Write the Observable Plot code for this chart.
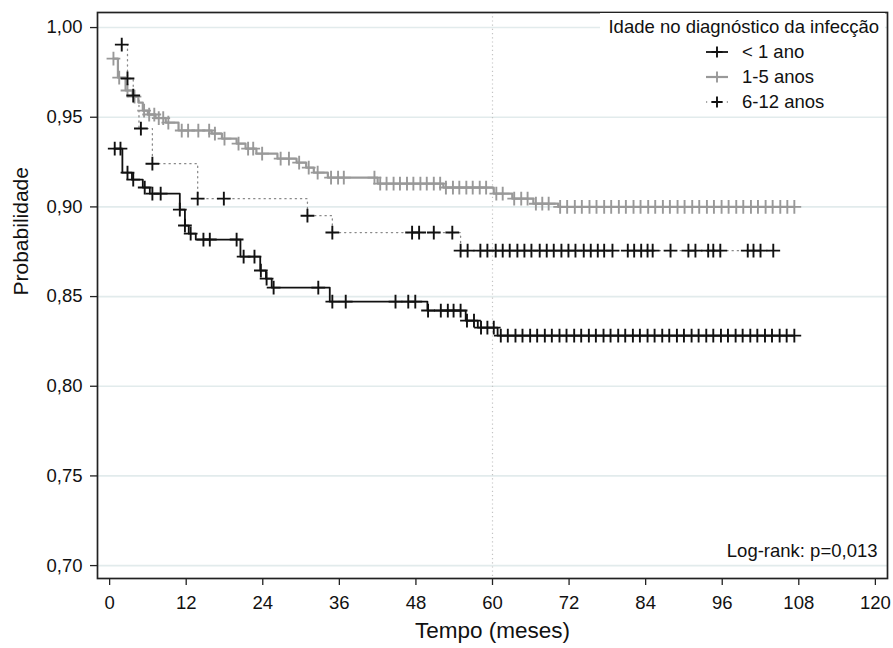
<!DOCTYPE html>
<html>
<head>
<meta charset="utf-8">
<script src="https://cdn.jsdelivr.net/npm/d3@7"></script>
<script src="https://cdn.jsdelivr.net/npm/@observablehq/plot@0.6"></script>
<style>
  body { margin: 0; background: #fff; }
  #wrap { position: relative; width: 893px; height: 648px; font-family: "Liberation Sans", Arial, sans-serif; }
  #legend { position: absolute; left: 600px; top: 13px; width: 285px; height: 100px; background: #fff; color: #111; }
  #legend .title { position: absolute; right: 6px; top: 3px; font-size: 18.5px; white-space: nowrap; }
  #legend .item { position: absolute; left: 104px; font-size: 18.5px; white-space: nowrap; height: 22px; }
  #legend .item svg { position: absolute; left: 0; top: 0; }
  #legend .item span { position: absolute; left: 38px; top: 0px; }
</style>
</head>
<body>
<div id="wrap"></div>
<script>
// ---- data ----
const groups = ["< 1 ano", "1-5 anos", "6-12 anos"];
const xTicks = [0, 12, 24, 36, 48, 60, 72, 84, 96, 108, 120];
const yTicks = [0.70, 0.75, 0.80, 0.85, 0.90, 0.95, 1.00];

// step curve (time in months, survival probability)
const lt1StepT = [0.8, 2.0, 3.5, 5.2, 6.3, 11.0, 11.8, 12.4, 13.5, 20.5, 23.6, 24.5, 25.4, 34.5, 49.8, 55.8, 57.7, 60.8, 107.3];
const lt1StepS = [0.9325, 0.9191, 0.9152, 0.9108, 0.9074, 0.8985, 0.8896, 0.8851, 0.8818, 0.8723, 0.8645, 0.8600, 0.8550, 0.8472, 0.8422, 0.8366, 0.8327, 0.8282, 0.8282];
const lt1Cens = [0.8, 1.7, 2.8, 3.7, 5.5, 6.7, 8.0, 11.0, 11.8, 12.7, 14.7, 15.7, 19.9, 21.0, 22.7, 23.7, 24.6, 25.7, 32.7, 34.9, 37.0, 44.8, 46.8, 47.9,
  49.9, 51.9, 53.0, 53.9, 55.0, 56.0, 57.1, 58.2, 59.2, 60.2,
  61.3, 62.4, 63.6, 64.7, 65.9, 67.0, 68.2, 69.3, 70.5, 71.6, 72.8, 73.9, 75.1, 76.2, 77.4, 78.5, 79.7, 80.8, 82.0, 83.1, 84.3, 85.4,
  86.6, 87.7, 88.9, 90.0, 91.2, 92.3, 93.5, 94.6, 95.8, 96.9, 98.1, 99.2, 100.4, 101.5, 102.7, 103.8, 105.0, 106.1, 107.3];

const m15StepT = [0.6, 1.3, 2.5, 3.6, 4.5, 5.2, 6.0, 7.2, 8.8, 10.8, 16.0, 17.6, 19.9, 21.3, 23.0, 26.3, 29.3, 30.8, 32.0, 34.2, 42.0, 52.3, 60.2, 63.1, 66.4, 70.3, 107.3];
const m15StepS = [0.9827, 0.9721, 0.9649, 0.9615, 0.9582, 0.9537, 0.9515, 0.9495, 0.9470, 0.9426, 0.9409, 0.9381, 0.9353, 0.9325, 0.9297, 0.9269, 0.9247, 0.9219, 0.9191, 0.9163, 0.9130, 0.9108, 0.9074, 0.9046, 0.9018, 0.9000, 0.9000];
const m15Cens = [0.6, 1.5, 2.8, 3.9, 5.4, 6.2, 7.0, 7.7, 8.4, 9.2, 11.3, 12.3, 13.9, 15.6, 16.5, 18.0, 20.2, 21.7, 22.5, 23.9, 26.8, 28.1, 29.7, 31.2,
  32.6, 34.7, 35.8, 36.7, 41.5, 42.4, 43.4, 44.5, 45.5, 46.6, 47.6, 48.7, 49.7, 50.8, 51.8, 52.7, 53.8, 54.8, 55.9, 56.9, 58.0, 59.0,
  60.6, 61.6, 63.4, 64.5, 65.5, 66.8, 67.8, 68.8,
  70.6, 71.7, 72.9, 74.0, 75.2, 76.3, 77.5, 78.6, 79.8, 80.9, 82.1, 83.2, 84.4, 85.5, 86.7, 87.8, 89.0, 90.1, 91.3, 92.4, 93.6, 94.7,
  95.9, 97.0, 98.2, 99.3, 100.5, 101.6, 102.8, 103.9, 105.1, 106.2, 107.3];

const m612StepT = [1.9, 2.8, 3.7, 4.6, 6.7, 13.8, 31.0, 34.9, 55.0, 104.0];
const m612StepS = [0.9905, 0.9716, 0.9621, 0.9437, 0.9241, 0.9046, 0.8951, 0.8857, 0.8756, 0.8756];
const m612Cens = [1.9, 2.8, 3.7, 4.9, 6.7, 13.8, 17.9, 31.0, 34.9, 47.4, 48.5, 50.8, 53.7, 55.0, 56.1, 58.1, 59.2, 60.5, 61.6, 62.7, 63.9,
  65.0, 66.1, 67.4, 68.5, 69.6, 70.8, 71.9, 73.0, 74.3, 75.4, 76.5, 77.5, 78.8, 81.2, 82.2, 83.3, 84.3, 85.1, 87.9, 90.7, 91.8,
  93.8, 94.6, 95.7, 100.0, 100.9, 102.0, 104.0];

const logRankText = "Log-rank: p=0,013";
const legendTitle = "Idade no diagnóstico da infecção";

// ---- build tables ----
const stepT = [lt1StepT, m15StepT, m612StepT];
const stepS = [lt1StepS, m15StepS, m612StepS];
const censT = [lt1Cens, m15Cens, m612Cens];

const steps = [];
const cens = [];
groups.forEach((g, i) => {
  stepT[i].forEach((t, j) => steps.push({group: g, t, s: stepS[i][j]}));
  censT[i].forEach(t => {
    // survival value of the KM step at the censoring time
    let s = stepS[i][0];
    for (let j = 0; j < stepT[i].length; j++) if (stepT[i][j] <= t + 1e-9) s = stepS[i][j];
    cens.push({group: g, t, s});
  });
});

const lineStyle = {
  "< 1 ano": {stroke: "#111", strokeWidth: 1.8, dash: null, mark: "#111"},
  "1-5 anos": {stroke: "#999", strokeWidth: 2.2, dash: null, mark: "#999"},
  "6-12 anos": {stroke: "#8a8a8a", strokeWidth: 1.3, dash: "1.2,4", mark: "#111"}
};

const fmt = d => d.toFixed(2).replace(".", ",");

const marks = [
  Plot.gridY(yTicks, {stroke: "#e2ebec", strokeOpacity: 1, strokeWidth: 1.6}),
  Plot.ruleX([60], {stroke: "#c4c4c4", strokeWidth: 1.2, strokeDasharray: "1.2,3"})
];
groups.forEach(g => {
  const st = lineStyle[g];
  marks.push(Plot.line(steps.filter(d => d.group === g), {
    x: "t", y: "s", curve: "step-after", stroke: st.stroke, strokeWidth: st.strokeWidth,
    strokeDasharray: st.dash
  }));
});
// draw grey group markers first, then black ones
["1-5 anos", "6-12 anos", "< 1 ano"].forEach(g => {
  marks.push(Plot.dot(cens.filter(d => d.group === g), {
    x: "t", y: "s", symbol: "plus", r: 4.5, stroke: lineStyle[g].mark, strokeWidth: 1.9
  }));
});
marks.push(
  Plot.frame({stroke: "#222", strokeWidth: 1.7}),
  Plot.axisY(yTicks, {tickFormat: fmt, tickSize: 7, tickPadding: 8, fontSize: 18.5, stroke: "#222", strokeWidth: 1.3, label: null}),
  Plot.axisX(xTicks, {tickSize: 7, tickPadding: 10, fontSize: 18.5, stroke: "#222", strokeWidth: 1.3, label: null}),
  Plot.text([logRankText], {frameAnchor: "bottom-right", dx: -10, dy: -22, fontSize: 18.5, fill: "#111", textAnchor: "end"}),
  Plot.text(["Tempo (meses)"], {frameAnchor: "bottom", dy: 59, fontSize: 22.5, fill: "#111"}),
  Plot.text(["Probabilidade"], {frameAnchor: "left", dx: -76, rotate: -90, fontSize: 21, fill: "#111"})
);

const chart = Plot.plot({
  width: 893,
  height: 648,
  marginLeft: 97,
  marginRight: 6,
  marginTop: 12,
  marginBottom: 70,
  style: {fontFamily: "'Liberation Sans', Arial, sans-serif", color: "#111", background: "#fff"},
  x: {domain: [-1.9, 121.9]},
  y: {domain: [0.6928, 1.0084]},
  marks
});

const wrap = document.getElementById("wrap");
wrap.appendChild(chart);

// legend (inside plot, top right)
const legend = document.createElement("div");
legend.id = "legend";
let html = `<div class="title">${legendTitle}</div>`;
groups.forEach((g, i) => {
  const st = lineStyle[g];
  const top = 28 + i * 25;
  html += `<div class="item" style="top:${top}px">
    <svg width="30" height="22"><line x1="2" x2="24" y1="11" y2="11" stroke="${st.stroke}" stroke-width="${st.strokeWidth}" ${st.dash ? `stroke-dasharray="${st.dash}"` : ""}/>
    <path d="M13,5.5V16.5M7.5,11H18.5" stroke="${st.mark}" stroke-width="1.9"/></svg>
    <span>${g}</span></div>`;
});
legend.innerHTML = html;
wrap.appendChild(legend);
</script>
</body>
</html>
